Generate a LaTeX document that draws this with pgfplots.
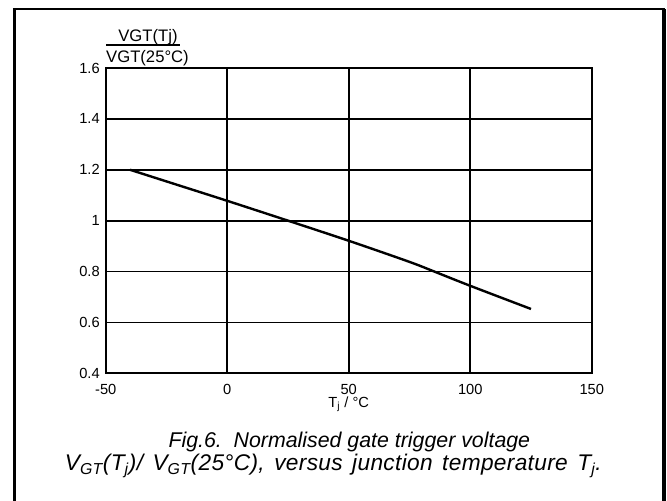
\documentclass[border=0pt]{standalone}
\usepackage{pgfplots}
\pgfplotsset{compat=1.18}
\usepackage{fontspec}
\setmainfont{Liberation Sans}

% normalised gate trigger voltage versus junction temperature
\pgfplotstableread{
T    v
-40  1.200
-20  1.139
0    1.078
25   1.000
50   0.921
75   0.838
86   0.797
100  0.744
125  0.653
}\vgtdata

\begin{document}
\begin{tikzpicture}[x=1pt,y=1pt]
\useasboundingbox (0,0) rectangle (500.25,375);
% outer frame (open at the bottom)
\draw[line width=2.25pt] (10.7,-5) -- (10.7,367.9);
\draw[line width=1.5pt] (9.6,367.9) -- (499,367.9);
\draw[line width=3pt] (498,-5) -- (498,368.6);

\begin{axis}[
  at={(79.3pt,95pt)}, anchor=south west,
  scale only axis, width=364.5pt, height=229pt,
  xmin=-50, xmax=150, ymin=0.4, ymax=1.6,
  xtick={-50,0,50,100,150}, ytick={0.4,0.6,...,1.6},
  yticklabels={0.4,0.6,0.8,1,1.2,1.4,1.6},
  major tick length=0pt,
  grid=major,
  grid style={black, line width=1.4pt},
  axis line style={black, line width=1.4pt},
  tick label style={font=\fontsize{11}{13}\selectfont},
  /pgf/number format/assume math mode=true,
  xticklabel style={yshift=-4.5pt},
  yticklabel style={xshift=-1pt},
  xlabel={T\textsubscript{j} / °C},
  xlabel style={font=\fontsize{11}{13}\selectfont,
    at={(axis description cs:0.5,0)}, anchor=base, yshift=-25.5pt},
]
\addplot[black, line width=1.8pt, smooth] table[x=T, y=v] {\vgtdata};
\end{axis}

% y-axis quantity written as a ratio above the axis
\node[anchor=base, font=\fontsize{12.5}{14}\selectfont, inner sep=0] at (111,344) {VGT(Tj)};
\draw[line width=0.9pt] (79.5,341.25) -- (135,341.25);
\node[anchor=base, font=\fontsize{12.5}{14}\selectfont, inner sep=0] at (110.6,328) {VGT(25°C)};

% figure caption
\node[anchor=base, font=\fontsize{16}{18}\selectfont\itshape, inner sep=0] at (262,39.75) {Fig.6.\ \ Normalised gate trigger voltage};
\node[anchor=base, font=\fontsize{17}{19}\selectfont\itshape\addfontfeature{LetterSpace=1.5}, inner sep=0] at (250,22) {\spaceskip=0.42em V\textsubscript{GT}(T\textsubscript{j})/ V\textsubscript{GT}(25°C), versus junction temperature T\textsubscript{j}.};
\end{tikzpicture}
\end{document}
